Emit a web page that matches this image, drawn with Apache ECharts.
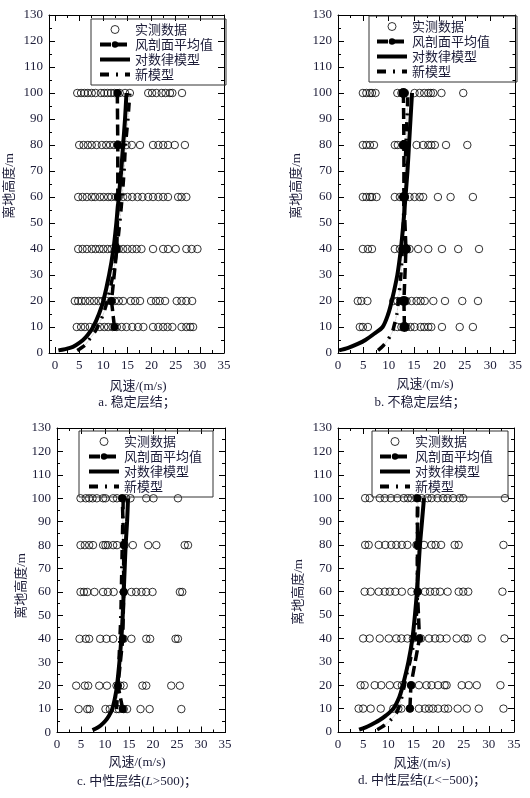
<!DOCTYPE html>
<html>
<head>
<meta charset="utf-8">
<script src="https://cdn.jsdelivr.net/npm/echarts@6/dist/echarts.min.js"></script>
<style>
  html, body { margin: 0; padding: 0; background: #fff; }
  #chart { width: 530px; height: 798px; }
</style>
</head>
<body>
<div id="chart"></div>
<script>
  // heights (m) of the measured rows, shared by all four panels
  var obsHeights = [10, 20, 40, 60, 80, 100];
  var xTicks = [0, 5, 10, 15, 20, 25, 30, 35];
  var xMinorTicks = [2.5, 7.5, 12.5, 17.5, 22.5, 27.5, 32.5];
  var seriesNames = ['实测数据', '风剖面平均值', '对数律模型', '新模型'];
  var captions = [
    '{n|a. 稳定层结；}',
    '{n|b. 不稳定层结；}',
    '{n|c. 中性层结(}{i|L}{n|>500)；}',
    '{n|d. 中性层结(}{i|L}{n|<−500)；}'
  ];

  // a. stable
  var obsA = [
    [4.5, 5.4, 6.2, 7.2, 8.3, 9.3, 10.2, 11.0, 11.9, 12.8, 13.8, 14.8, 16.0, 17.2, 18.3, 20.3, 21.4, 22.4, 23.3, 24.3, 26.2, 27.2, 28.0, 28.6],
    [4.1, 4.8, 5.5, 6.3, 7.2, 8.1, 9.0, 9.8, 10.7, 11.6, 12.4, 13.2, 14.1, 15.7, 16.6, 17.6, 19.9, 20.9, 21.7, 22.8, 25.2, 26.2, 27.2, 28.4],
    [4.8, 5.7, 6.6, 7.6, 8.4, 9.2, 10.0, 10.9, 11.7, 12.6, 13.2, 14.1, 15.0, 16.0, 16.9, 17.9, 20.3, 22.4, 23.4, 25.0, 27.2, 28.3, 29.5],
    [4.8, 5.7, 6.6, 7.6, 8.3, 9.3, 10.1, 11.0, 11.7, 12.6, 13.2, 14.1, 15.0, 16.0, 17.1, 18.1, 19.3, 20.3, 21.4, 22.4, 23.4, 25.5, 26.2, 27.2],
    [5.0, 5.9, 6.8, 7.6, 8.6, 9.7, 10.6, 11.4, 12.2, 13.0, 13.8, 14.8, 15.9, 17.6, 20.3, 21.4, 22.4, 23.4, 24.8, 26.9],
    [4.6, 5.4, 6.1, 6.8, 7.6, 8.4, 9.5, 10.2, 10.9, 11.6, 12.3, 13.4, 14.5, 15.5, 19.3, 20.1, 21.0, 22.1, 22.9, 23.8, 24.3, 26.3]
  ];
  var meanA = [12.3, 11.7, 12.8, 13.0, 13.0, 12.9];
  var logHeightsA = [1, 2, 3, 5, 7, 10, 15, 20, 30, 40, 50, 60, 70, 80, 90, 100];
  var logA = [0.7, 3.1, 4.3, 5.8, 6.8, 7.9, 9.1, 10.0, 11.2, 12.1, 12.7, 13.2, 13.7, 14.1, 14.5, 14.8];
  var newHeightsA = [1, 3, 5, 8, 10, 15, 20, 30, 40, 50, 60, 70, 80, 90, 100];
  var newA = [4.6, 6.2, 7.0, 8.2, 8.8, 10.0, 10.8, 12.0, 12.8, 13.4, 13.9, 14.3, 14.6, 15.1, 15.5];

  // b. unstable
  var obsB = [
    [4.3, 4.9, 5.9, 11.7, 12.5, 13.5, 14.3, 15.1, 16.3, 17.0, 17.8, 18.4, 20.5, 24.0, 26.6],
    [3.9, 4.6, 5.8, 10.9, 11.7, 12.5, 13.5, 14.5, 15.5, 16.3, 17.1, 18.8, 21.1, 24.5, 27.6],
    [4.9, 5.9, 6.7, 11.2, 12.2, 13.3, 14.1, 15.8, 17.8, 20.5, 23.7, 27.8],
    [4.9, 5.6, 6.3, 6.7, 7.6, 11.2, 12.2, 13.2, 14.1, 15.1, 16.1, 16.8, 19.7, 22.2, 26.6],
    [4.9, 5.6, 6.3, 7.1, 11.2, 11.8, 12.8, 13.5, 15.5, 16.8, 17.8, 18.4, 19.1, 21.3, 25.5],
    [4.9, 5.6, 6.3, 6.7, 7.4, 11.7, 12.5, 13.2, 15.1, 16.1, 17.0, 17.8, 18.3, 18.8, 20.4, 24.7]
  ];
  var meanB = [13.1, 13.0, 13.4, 13.0, 13.0, 12.9];
  var logHeightsB = [1, 2, 3.5, 5, 7.5, 10, 15, 20, 30, 40, 50, 60, 70, 80, 90, 100];
  var logB = [0.2, 2.0, 3.9, 5.4, 7.2, 8.8, 9.9, 10.6, 11.7, 12.4, 12.9, 13.3, 13.7, 14.0, 14.3, 14.6];
  var newHeightsB = [1, 3, 5, 8, 10, 15, 20, 30, 40, 50, 60, 70, 80, 90, 100];
  var newB = [7.9, 9.0, 9.8, 10.7, 11.0, 11.6, 11.9, 12.4, 12.7, 12.9, 13.0, 13.2, 13.4, 13.6, 13.8];

  // c. neutral (L>500)
  var obsC = [
    [4.5, 6.3, 6.8, 10.1, 11.0, 12.4, 12.9, 13.9, 14.6, 17.4, 19.3, 25.9],
    [4.0, 5.8, 6.5, 8.8, 10.4, 12.4, 13.2, 13.9, 17.8, 18.6, 23.8, 25.6],
    [4.7, 6.0, 6.7, 9.0, 10.3, 11.7, 13.9, 15.5, 18.6, 19.4, 24.7, 25.2],
    [4.9, 5.6, 6.3, 7.8, 9.6, 10.6, 11.8, 13.9, 15.5, 16.5, 17.6, 18.6, 19.9, 25.6, 26.1],
    [4.9, 5.8, 6.7, 7.5, 9.6, 10.1, 10.6, 11.7, 12.5, 14.1, 15.8, 19.0, 20.7, 26.6, 27.3],
    [4.9, 6.0, 6.7, 7.4, 8.3, 9.6, 10.1, 11.7, 12.5, 13.6, 14.4, 15.3, 18.6, 20.1, 25.2]
  ];
  var meanC = [13.7, 12.7, 13.7, 13.9, 13.9, 13.6];
  var logHeightsC = [1, 2, 3, 5, 7, 10, 15, 20, 30, 40, 50, 60, 70, 80, 90, 100];
  var logC = [7.4, 8.4, 9.1, 10.1, 10.8, 11.5, 12.1, 12.5, 13.0, 13.4, 13.7, 13.9, 14.1, 14.3, 14.6, 14.8];
  var newHeightsC = [10, 20, 30, 40, 50, 60, 70, 80, 90, 100];
  var newC = [12.4, 12.7, 12.9, 13.1, 13.3, 13.4, 13.5, 13.6, 13.7, 13.8];

  // d. neutral (L<-500)
  var obsD = [
    [4.1, 5.0, 6.5, 8.5, 11.0, 12.0, 12.6, 14.3, 16.1, 17.3, 18.1, 18.9, 19.9, 21.2, 21.9, 23.8, 25.6, 28.0, 32.9],
    [4.5, 5.3, 7.3, 8.6, 10.3, 11.8, 12.7, 14.6, 16.1, 17.6, 18.6, 19.9, 21.2, 21.6, 24.6, 26.0, 27.6, 32.3],
    [5.0, 6.3, 8.3, 10.1, 11.6, 12.6, 13.8, 14.9, 16.5, 18.1, 19.3, 20.3, 21.6, 23.6, 25.2, 25.8, 28.6, 33.1],
    [5.3, 6.5, 8.1, 9.3, 10.3, 11.4, 12.7, 14.6, 15.9, 17.3, 18.3, 19.3, 20.3, 21.8, 24.0, 24.9, 25.9, 32.7],
    [5.4, 6.1, 8.1, 9.4, 10.6, 11.6, 12.7, 13.8, 15.6, 17.1, 18.6, 19.4, 20.5, 23.2, 24.0, 32.9],
    [5.4, 6.3, 8.3, 9.3, 10.5, 11.8, 13.1, 13.9, 14.6, 15.6, 16.6, 17.8, 18.6, 19.8, 20.9, 21.8, 22.9, 24.2, 24.9, 33.2]
  ];
  var meanD = [14.3, 14.5, 16.2, 15.8, 15.8, 15.8];
  var logHeightsD = [1, 2, 3, 5, 7, 10, 15, 20, 30, 40, 50, 60, 70, 80, 90, 100];
  var logD = [4.2, 5.5, 6.5, 8.2, 9.5, 11.0, 12.2, 12.9, 14.0, 14.8, 15.3, 15.7, 16.0, 16.3, 16.7, 17.1];
  var newHeightsD = [1, 3, 5, 8, 10, 15, 20, 25, 30, 40, 50, 60, 70, 80, 90, 100];
  var newD = [7.8, 9.3, 10.4, 11.6, 12.0, 12.7, 13.2, 13.7, 14.3, 15.2, 15.6, 15.8, 15.8, 15.8, 15.8, 15.9];

  var INK = '#1c1c38';
  var SERIF = '"Liberation Serif", "Noto Sans CJK SC", serif';
  var CJK = '"Noto Sans CJK SC", sans-serif';

  var panels = [
    { grid: { left: 49, top: 15, width: 175, height: 338 }, xMin: -1.25,
      obs: obsA, mean: meanA, logH: logHeightsA, log: logA, newH: newHeightsA, nw: newA, meanSize: 8,
      legend: { left: 91, top: 19, padding: [3, 13, 3, 7] },
      xTitle: [138, 387], caption: [137, 403], yTitle: [10, 186] },
    { grid: { left: 338, top: 15, width: 177.5, height: 338 }, xMin: 0,
      obs: obsB, mean: meanB, logH: logHeightsB, log: logB, newH: newHeightsB, nw: newB, meanSize: 10,
      legend: { left: 369, top: 16, padding: [3, 27, 3, 6] },
      xTitle: [425, 385], caption: [420, 403], yTitle: [297, 186] },
    { grid: { left: 57, top: 428, width: 168, height: 304.5 }, xMin: 0,
      obs: obsC, mean: meanC, logH: logHeightsC, log: logC, newH: newHeightsC, nw: newC, meanSize: 8,
      legend: { left: 79, top: 431, padding: [3, 11, 3, 8] },
      xTitle: [137, 763], caption: [137, 782], yTitle: [22, 586] },
    { grid: { left: 338, top: 428, width: 176, height: 304 }, xMin: 0,
      obs: obsD, mean: meanD, logH: logHeightsD, log: logD, newH: newHeightsD, nw: newD, meanSize: 8,
      legend: { left: 372, top: 431, padding: [3, 15, 3, 6] },
      xTitle: [422, 764], caption: [422, 781], yTitle: [299, 592] }
  ];

  function pairs(xs, ys) {
    return xs.map(function (x, k) { return [x, ys[k]]; });
  }

  function obsPoints(rows) {
    var pts = [];
    rows.forEach(function (row, r) {
      row.forEach(function (x) { pts.push([x, obsHeights[r]]); });
    });
    return pts;
  }

  var BLACK_LINE = { color: '#000', width: 1 };

  function xAxisPair(i, p, position) {
    var base = {
      type: 'value', gridIndex: i, position: position, min: p.xMin, max: 35,
      splitLine: { show: false }
    };
    var major = Object.assign({}, base, {
      axisLine: { show: true, onZero: false, lineStyle: BLACK_LINE },
      axisTick: { show: true, inside: true, length: 6, customValues: xTicks, lineStyle: BLACK_LINE },
      axisLabel: position === 'bottom'
        ? { show: true, customValues: xTicks, margin: 6, fontFamily: SERIF, fontSize: 13, color: INK }
        : { show: false }
    });
    var minor = Object.assign({}, base, {
      axisLine: { show: false, onZero: false },
      axisTick: { show: true, inside: true, length: 3, customValues: xMinorTicks, lineStyle: BLACK_LINE },
      axisLabel: { show: false }
    });
    return [major, minor];
  }

  function yAxis(i, position) {
    return {
      type: 'value', gridIndex: i, position: position, min: 0, max: 130, interval: 10,
      splitLine: { show: false },
      axisLine: { show: true, onZero: false, lineStyle: BLACK_LINE },
      axisTick: { show: true, inside: true, length: 6, lineStyle: BLACK_LINE },
      minorTick: { show: true, splitNumber: 2, length: 3, lineStyle: BLACK_LINE },
      axisLabel: position === 'left'
        ? { show: true, margin: 6, fontFamily: SERIF, fontSize: 13, color: INK }
        : { show: false }
    };
  }

  // legend entries: the two model lines are drawn without a marker
  var legendData = [
    { name: seriesNames[0] },
    { name: seriesNames[1] },
    { name: seriesNames[2], itemStyle: { opacity: 0 } },
    { name: seriesNames[3], itemStyle: { opacity: 0 } }
  ];

  var option = {
    animation: false,
    backgroundColor: '#fff',
    grid: [], xAxis: [], yAxis: [], series: [], legend: [], graphic: []
  };

  panels.forEach(function (p, i) {
    option.grid.push(p.grid);
    option.xAxis = option.xAxis.concat(xAxisPair(i, p, 'bottom'), xAxisPair(i, p, 'top'));
    option.yAxis.push(yAxis(i, 'left'), yAxis(i, 'right'));

    var xi = 4 * i, yi = 2 * i;
    var newPts = pairs(p.nw, p.newH);

    option.series.push(
      { name: seriesNames[0], type: 'scatter', xAxisIndex: xi, yAxisIndex: yi, z: 2, silent: true,
        data: obsPoints(p.obs), symbol: 'circle', symbolSize: 7.5,
        itemStyle: { color: 'rgba(0,0,0,0)', borderColor: '#000', borderWidth: 1 } },
      { name: '新模型细线', type: 'line', xAxisIndex: xi, yAxisIndex: yi, z: 3, silent: true,
        data: newPts, symbol: 'none', smooth: 0.3,
        lineStyle: { color: '#999', width: 0.7, type: 'dotted' } },
      { name: seriesNames[2], type: 'line', xAxisIndex: xi, yAxisIndex: yi, z: 4, silent: true,
        data: pairs(p.log, p.logH), symbol: 'none', smooth: 0.3,
        itemStyle: { color: '#000' },
        lineStyle: { color: '#000', width: 4 } },
      { name: seriesNames[3], type: 'line', xAxisIndex: xi, yAxisIndex: yi, z: 5, silent: true,
        data: newPts, symbol: 'none', smooth: 0.3,
        itemStyle: { color: '#000' },
        lineStyle: { color: '#000', width: 3.5, type: [9, 7, 2, 7] } },
      { name: seriesNames[1], type: 'line', xAxisIndex: xi, yAxisIndex: yi, z: 6, silent: true,
        data: pairs(p.mean, obsHeights), symbol: 'circle', symbolSize: p.meanSize,
        itemStyle: { color: '#000' },
        lineStyle: { color: '#000', width: 3.5, type: [11, 5] } }
    );

    option.legend.push({
      orient: 'vertical', left: p.legend.left, top: p.legend.top, padding: p.legend.padding,
      data: legendData, selectedMode: false,
      itemWidth: 30, itemHeight: 8, itemGap: 0,
      borderColor: '#333', borderWidth: 1, borderRadius: 0,
      itemStyle: { borderWidth: 1 },
      lineStyle: { width: 4 },
      textStyle: { fontFamily: CJK, fontSize: 13, lineHeight: 15, color: INK }
    });

    option.graphic.push(
      { type: 'text', x: p.xTitle[0], y: p.xTitle[1], silent: true,
        style: { text: '风速/(m/s)', align: 'center', verticalAlign: 'middle',
          font: '13px ' + SERIF, fill: INK } },
      { type: 'text', x: p.caption[0], y: p.caption[1], silent: true,
        style: { text: captions[i], align: 'center', verticalAlign: 'middle',
          rich: {
            n: { fontFamily: SERIF, fontSize: 13, fill: INK, color: INK },
            i: { fontFamily: SERIF, fontSize: 13, fontStyle: 'italic', fill: INK, color: INK }
          } } },
      { type: 'text', x: p.yTitle[0], y: p.yTitle[1], rotation: Math.PI / 2, silent: true,
        style: { text: '离地高度/m', align: 'center', verticalAlign: 'middle',
          font: '13px ' + SERIF, fill: INK } }
    );
  });

  var chart = echarts.init(document.getElementById('chart'), null, { renderer: 'canvas' });
  chart.setOption(option);
</script>
</body>
</html>
